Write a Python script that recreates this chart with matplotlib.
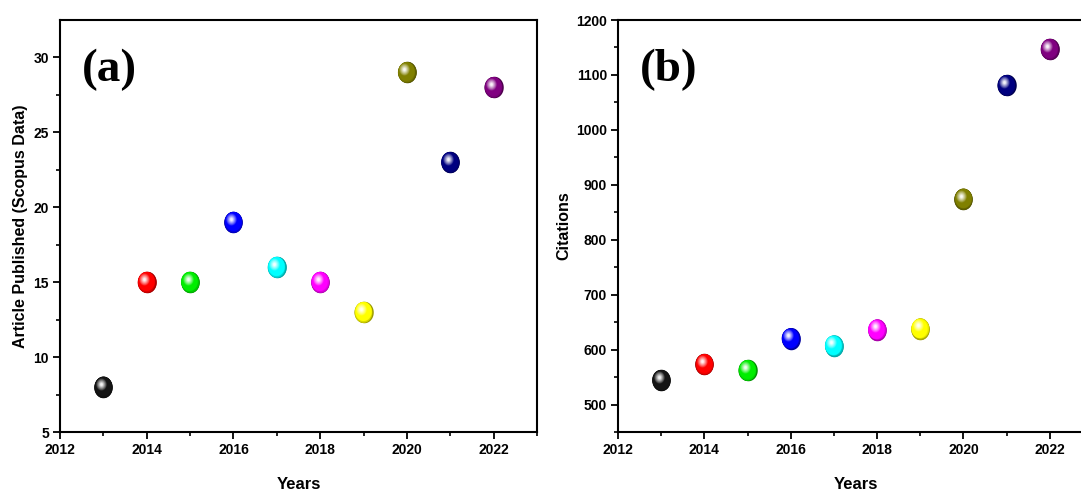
import numpy as np
import matplotlib
matplotlib.use("Agg")
import matplotlib.pyplot as plt
from matplotlib.path import Path
from matplotlib.markers import MarkerStyle
from matplotlib.transforms import ScaledTranslation
from matplotlib.colors import to_rgb

years = [2013, 2014, 2015, 2016, 2017, 2018, 2019, 2020, 2021, 2022]
articles = [8, 15, 15, 19, 16, 15, 13, 29, 23, 28]
citations = [544, 573, 562, 620, 607, 636, 638, 874, 1081, 1147]
colors = ["#000000", "#ff0000", "#00ee00", "#0000ff", "#00ffff", "#ff00ff",
          "#ffff00", "#808000", "#000080", "#800080"]
xticks = [2012, 2014, 2016, 2018, 2020, 2022]
yticks_a = [5, 10, 15, 20, 25, 30]
yticks_b = [500, 600, 700, 800, 900, 1000, 1100, 1200]

plt.rcParams['font.family'] = ['Liberation Sans', 'DejaVu Sans']

W, H = 1081, 490
fig = plt.figure(figsize=(W / 100, H / 100), dpi=100)

def frac(l, r, t, b):
    return [l / W, (H - b) / H, (r - l) / W, (b - t) / H]

ax1 = fig.add_axes(frac(60, 537, 20, 432))
ax2 = fig.add_axes(frac(618, 1093, 20, 432))

theta = np.linspace(0, 2 * np.pi, 64)
ell = Path(np.column_stack([0.86 * np.cos(theta), np.sin(theta)]), closed=True)
emark = MarkerStyle(ell)

def sphere(ax, x, y, col, ms=15.5):
    base = np.array(to_rgb(col))
    if base.sum() == 0:
        base = np.array([0.08, 0.08, 0.08])
    dark = base * 0.6
    ax.plot([x], [y], marker=emark, ms=ms, mfc=tuple(dark), mec='none',
            ls='none', zorder=3)
    # body
    n1 = 5
    for i in range(n1):
        t = (i + 1) / n1
        size = ms * (1 - 0.12 * t)
        c = dark + (base - dark) * t
        tr = ax.transData + ScaledTranslation(-0.008 * t, 0.010 * t, fig.dpi_scale_trans)
        ax.plot([x], [y], marker=emark, ms=size, mfc=tuple(np.clip(c, 0, 1)),
                mec='none', ls='none', zorder=3.1 + i * 0.01, transform=tr)
    # highlight
    n2 = 10
    for i in range(n2):
        t = (i + 1) / n2
        size = ms * (0.62 - 0.5 * t)
        c = base + (1 - base) * (t ** 0.9) * 0.95
        tr = ax.transData + ScaledTranslation(-0.025, 0.035, fig.dpi_scale_trans)
        ax.plot([x], [y], marker=emark, ms=size, mfc=tuple(np.clip(c, 0, 1)),
                mec='none', ls='none', zorder=3.2 + i * 0.01, transform=tr)

def style(ax, yticks, ylim, yminor, ylabel, pad):
    ax.set_xlim(2012, 2023)
    ax.set_ylim(*ylim)
    ax.set_xticks(xticks)
    ax.set_xticks(np.arange(2012, 2024, 1), minor=True)
    ax.set_yticks(yticks)
    ax.set_yticks(yminor, minor=True)
    for s in ax.spines.values():
        s.set_linewidth(1.5)
    ax.tick_params(which='major', direction='out', length=5, width=1.3,
                   labelsize=10, pad=3)
    ax.tick_params(which='minor', direction='out', length=3, width=1.2)
    ax.tick_params(top=False, right=False)
    for lab in ax.get_xticklabels() + ax.get_yticklabels():
        lab.set_fontweight('bold')
    ax.set_xlabel('Years', fontsize=12, fontweight='bold', labelpad=14)
    ax.set_ylabel(ylabel, fontsize=11.5, fontweight='bold', labelpad=pad)

for x, y, c in zip(years, articles, colors):
    sphere(ax1, x, y, c)
for x, y, c in zip(years, citations, colors):
    sphere(ax2, x, y, c)

style(ax1, yticks_a, (5, 32.5), np.arange(7.5, 32.5, 5),
      'Article Published (Scopus Data)', 4)
style(ax2, yticks_b, (450, 1200), np.arange(450, 1200, 100), 'Citations', 3)

ax1.text(82 / W, 1 - 70 / H, '(a)', transform=fig.transFigure, fontsize=34,
         fontweight='bold', family='Liberation Serif', va='center', ha='left')
ax2.text(640 / W, 1 - 70 / H, '(b)', transform=fig.transFigure, fontsize=34,
         fontweight='bold', family='Liberation Serif', va='center', ha='left')

fig.savefig('out.png', dpi=100)
